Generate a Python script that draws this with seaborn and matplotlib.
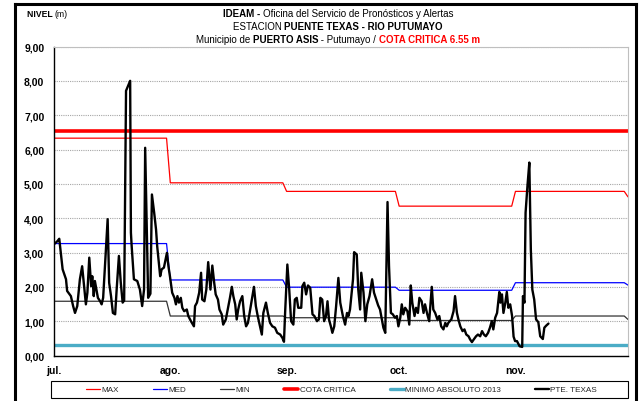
import numpy as np
import pandas as pd
import matplotlib
matplotlib.use("Agg")
import matplotlib.pyplot as plt
from matplotlib.text import Annotation
from matplotlib.patches import Rectangle
from matplotlib.lines import Line2D
import seaborn as sns

# ---- Datos -------------------------------------------------------------
meses = ["jul.", "ago.", "sep.", "oct.", "nov."]
inicio_mes = [0, 31, 62, 92, 123]
dias_mes = [31, 31, 30, 31, 30]
fin_eje = 153  # 1 de diciembre

# Estadisticos mensuales (m)
max_mes = [6.33, 5.03, 4.78, 4.35, 4.78]
med_mes = [3.26, 2.20, 1.99, 1.90, 2.12]
min_mes = [1.58, 1.15, 1.10, 1.02, 1.15]
cierre_max, cierre_med, cierre_min = 4.62, 2.05, 1.05

cota_critica = 6.55
minimo_absoluto_2013 = 0.32

# Nivel observado en la estacion Puente Texas (dias desde el 1 de julio)
dias_jul = [0.0, 0.9, 1.4, 2.3, 3.2, 3.5, 4.5, 5.1, 5.6, 6.2, 6.9, 7.5, 8.1, 8.5,
            8.9, 9.4, 9.9, 10.2, 10.6, 10.9, 11.7, 12.3, 12.7, 13.1, 14.3, 14.7,
            15.2, 15.7, 16.3, 16.7, 17.3, 17.8, 18.3, 18.7, 19.2, 20.3, 20.5, 20.7,
            21.3, 22.2, 22.9, 23.5, 24.0, 24.3, 25.1, 25.7, 26.1, 26.7, 27.2, 27.5,
            28.3, 28.7, 29.3, 30.1, 30.5, 30.9]
nivel_jul = [3.24, 3.33, 3.40, 2.51, 2.22, 1.88, 1.73, 1.44, 1.24, 1.44, 2.22, 2.60,
             1.92, 1.49, 1.83, 2.85, 2.02, 2.31, 1.73, 2.17, 1.68, 1.58, 1.49, 1.68,
             3.97, 2.12, 1.73, 1.24, 1.20, 1.92, 2.90, 2.12, 1.54, 1.60, 7.71, 8.00,
             3.58, 3.19, 2.22, 2.17, 1.92, 1.44, 1.92, 6.05, 1.68, 1.80, 4.69, 4.16,
             3.67, 3.19, 2.31, 2.51, 2.56, 2.99, 2.60, 2.31]

dias_ago = [31.5, 32.1, 32.5, 32.9, 33.3, 33.8, 34.2, 34.7, 35.4, 35.8, 36.5, 37.3,
            37.6, 38.1, 38.7, 39.2, 39.5, 40.1, 40.6, 41.1, 41.7, 42.2, 42.7, 43.1,
            43.7, 44.1, 44.7, 45.1, 45.8, 46.3, 46.9, 47.4, 47.8, 48.3, 48.7, 49.1,
            49.6, 50.2, 50.7, 51.2, 51.7, 52.3, 52.9, 53.3, 53.8, 54.3, 54.9, 55.4,
            55.8, 56.5, 57.0, 57.6, 58.2, 58.9, 59.5, 60.3, 60.9, 61.3]
nivel_ago = [1.83, 1.68, 1.49, 1.73, 1.54, 1.68, 1.39, 1.29, 1.34, 1.15, 1.00, 0.85,
             1.44, 1.54, 1.83, 2.41, 1.63, 1.58, 1.92, 2.72, 1.92, 2.62, 2.12, 1.78,
             1.63, 1.34, 1.20, 0.90, 1.05, 1.34, 1.68, 2.00, 1.73, 1.49, 1.05, 1.34,
             1.58, 1.73, 1.15, 0.85, 0.95, 1.34, 1.73, 2.00, 1.44, 1.15, 0.85, 0.61,
             1.24, 1.54, 1.24, 0.95, 0.85, 0.81, 0.66, 0.61, 0.51, 0.40]

dias_sep = [61.6, 62.2, 62.7, 63.2, 63.8, 64.2, 64.7, 65.1, 65.9, 66.2, 66.7, 67.2,
            67.7, 68.3, 68.9, 69.4, 70.1, 70.6, 71.0, 71.5, 72.0, 72.5, 72.9, 73.3,
            73.8, 74.2, 74.7, 75.2, 75.8, 76.3, 77.0, 77.6, 78.1, 78.5, 78.9, 79.7,
            80.0, 80.7, 81.1, 81.6, 81.9, 82.5, 83.0, 83.5, 84.1, 84.8, 85.3, 85.9,
            86.4, 86.9, 87.4, 87.8, 88.3, 88.9, 89.3, 89.8, 90.3, 90.9, 91.4, 91.8]
nivel_sep = [1.24, 2.65, 1.92, 1.00, 0.90, 1.63, 1.68, 1.39, 1.39, 2.02, 2.12, 1.78,
             2.04, 1.97, 1.20, 1.15, 1.00, 1.05, 1.68, 1.63, 1.00, 1.15, 1.58, 1.05,
             0.85, 0.66, 0.85, 1.44, 2.26, 1.54, 1.15, 0.90, 1.24, 1.15, 1.34, 2.22,
             3.01, 2.94, 1.92, 1.34, 2.41, 1.83, 1.00, 1.49, 1.73, 2.22, 1.83, 1.63,
             1.46, 1.34, 1.05, 0.81, 0.66, 4.47, 2.60, 1.24, 1.20, 1.10, 1.15, 0.85]

dias_oct = [92.3, 92.7, 93.1, 93.6, 94.2, 94.7, 95.1, 95.5, 96.1, 96.5, 97.0, 97.4,
            98.0, 98.5, 98.9, 99.5, 100.0, 100.7, 101.1, 101.6, 102.2, 102.7, 103.2,
            103.8, 104.3, 104.7, 105.1, 105.9, 106.5, 106.9, 107.4, 107.8, 108.3,
            108.9, 109.4, 109.9, 110.5, 110.9, 111.4, 111.9, 112.5, 113.0, 113.6,
            114.1, 114.6, 115.1, 115.7, 116.2, 116.7, 117.1, 117.6, 118.1, 118.7,
            119.0, 119.4, 119.8, 120.3, 120.7, 121.1, 121.6, 122.1, 122.5, 122.9]
nivel_oct = [1.10, 1.49, 1.20, 1.39, 1.29, 0.90, 2.04, 1.54, 1.15, 1.39, 1.24, 1.68,
             1.58, 1.24, 1.49, 1.20, 1.00, 2.00, 1.34, 1.24, 1.05, 1.15, 0.85,
             0.76, 0.95, 0.85, 0.95, 1.05, 1.29, 1.73, 1.24, 1.05, 0.85,
             0.71, 0.76, 0.61, 0.56, 0.47, 0.39, 0.47, 0.56, 0.61, 0.56,
             0.71, 0.61, 0.56, 0.66, 0.81, 1.00, 0.76, 1.10, 1.24, 1.85,
             1.54, 1.78, 1.24, 1.54, 1.85, 1.39, 1.49, 1.15, 0.55, 0.42]

dias_nov = [123.4, 124.1, 124.8, 125.0, 125.4, 125.7, 126.2, 126.7, 127.1, 127.5,
            128.0, 128.5, 129.1, 129.6, 130.3, 130.7, 131.2, 131.8]
nivel_nov = [0.42, 0.27, 0.25, 1.73, 1.54, 4.16, 4.94, 5.62, 3.09, 1.92,
             1.63, 1.05, 0.97, 0.56, 0.48, 0.81, 0.87, 0.93]

# ---- Tablas ------------------------------------------------------------
serie = pd.DataFrame({
    "dia": dias_jul + dias_ago + dias_sep + dias_oct + dias_nov,
    "nivel": nivel_jul + nivel_ago + nivel_sep + nivel_oct + nivel_nov,
})

dias_diarios = np.arange(fin_eje + 1)
estad = pd.DataFrame({
    "dia": dias_diarios,
    "max": np.append(np.repeat(max_mes, dias_mes), cierre_max),
    "med": np.append(np.repeat(med_mes, dias_mes), cierre_med),
    "min": np.append(np.repeat(min_mes, dias_mes), cierre_min),
})
referencias = pd.DataFrame({
    "dia": [0, fin_eje],
    "cota": [cota_critica] * 2,
    "minimo": [minimo_absoluto_2013] * 2,
})

# ---- Estilo ------------------------------------------------------------
sns.set_theme(style="white")
ANGOSTA = ["Liberation Sans Narrow", "Liberation Sans", "DejaVu Sans"]
NORMAL = ["Liberation Sans", "DejaVu Sans"]
plt.rcParams["font.family"] = NORMAL

fig = plt.figure(figsize=(6.4, 4.02), dpi=100, facecolor="white")
ax = fig.add_axes([54 / 640, 1 - 356.5 / 402, 574 / 640, 309 / 402])

sns.lineplot(data=estad, x="dia", y="max", ax=ax, color="#ff0000", linewidth=0.9,
             label="MAX", estimator=None, sort=False)
sns.lineplot(data=estad, x="dia", y="med", ax=ax, color="#0000ff", linewidth=0.9,
             label="MED", estimator=None, sort=False)
sns.lineplot(data=estad, x="dia", y="min", ax=ax, color="#333333", linewidth=0.9,
             label="MIN", estimator=None, sort=False)
sns.lineplot(data=referencias, x="dia", y="cota", ax=ax, color="#ff0000",
             linewidth=2.6, label="COTA CRITICA", estimator=None, sort=False)
sns.lineplot(data=referencias, x="dia", y="minimo", ax=ax, color="#4BACC6",
             linewidth=2.4, label="MINIMO ABSOLUTO 2013", estimator=None, sort=False)
sns.lineplot(data=serie, x="dia", y="nivel", ax=ax, color="black", linewidth=1.7,
             label="PTE. TEXAS", estimator=None, sort=False)

handles, labels = ax.get_legend_handles_labels()
ax.get_legend().remove()

# Ejes
ax.set_xlim(0, fin_eje)
ax.set_ylim(0, 9)
ax.set_xlabel("")
ax.set_ylabel("")
ax.set_xticks(inicio_mes)
ax.set_xticklabels(meses, fontweight="bold", fontsize=7.5)
yt = np.arange(0, 10)
ax.set_yticks(yt)
ax.set_yticklabels([f"{v:.2f}".replace(".", ",") for v in yt],
                   fontweight="bold", fontsize=7.5)
ax.tick_params(axis="both", which="major", direction="out", length=3,
               width=0.8, color="black", labelcolor="black")
ax.tick_params(axis="x", pad=4)
ax.tick_params(axis="y", pad=4)
ax.yaxis.grid(True, linestyle=(0, (1, 1)), color="#a6a6a6", linewidth=0.8)
ax.xaxis.grid(False)
ax.set_axisbelow(True)
for lado in ("left", "bottom"):
    ax.spines[lado].set_color("black")
    ax.spines[lado].set_linewidth(1.0)
for lado in ("top", "right"):
    ax.spines[lado].set_color("#bfbfbf")
    ax.spines[lado].set_linewidth(0.8)

# Leyenda inferior con marco
fig.add_artist(Rectangle((51 / 640, 3 / 402), 577 / 640, 17 / 402,
                         transform=fig.transFigure, fill=False,
                         edgecolor="black", linewidth=0.8))
fig.legend(handles, labels, loc="center", bbox_to_anchor=(0.5336, 0.0286),
           ncol=6, frameon=False, prop={"family": ANGOSTA, "size": 5.9},
           handlelength=1.7, handletextpad=0.15, columnspacing=4.2,
           borderpad=0.0)

# Marco exterior
for xs, ys in [((15 / 640, 15 / 640), (0, 397 / 402)),
               ((15 / 640, 636 / 640), (397 / 402, 397 / 402)),
               ((636 / 640, 636 / 640), (0, 397 / 402))]:
    fig.add_artist(Line2D(xs, ys, transform=fig.transFigure, color="black",
                          linewidth=2.2, solid_capstyle="projecting"))


def escribir(x, y, piezas, size, centrar=True):
    """Escribe un renglon con tramos de distinto estilo uno tras otro."""
    arts = []
    for texto, peso, color in piezas:
        if not arts:
            t = fig.text(x, y, texto, fontsize=size, fontweight=peso, color=color,
                         ha="left", va="bottom", family=ANGOSTA)
        else:
            t = Annotation(texto, xy=(1, 0), xycoords=arts[-1], ha="left",
                           va="bottom", fontsize=size, fontweight=peso,
                           color=color, family=ANGOSTA)
            fig.add_artist(t)
        arts.append(t)
    if centrar:
        fig.canvas.draw()
        r = fig.canvas.get_renderer()
        x0 = arts[0].get_window_extent(r).x0
        x1 = arts[-1].get_window_extent(r).x1
        centro = x * fig.bbox.width
        dx = (centro - (x0 + x1) / 2) / fig.bbox.width
        arts[0].set_x(x + dx)
    return arts


centro_x = 338 / 640
escribir(centro_x, 1 - 19 / 402,
         [("IDEAM - ", "bold", "black"),
          ("Oficina del Servicio de Pronósticos y Alertas", "normal", "black")], 7.0)
escribir(centro_x, 1 - 32 / 402,
         [("ESTACION ", "normal", "black"),
          ("PUENTE TEXAS - RIO PUTUMAYO", "bold", "black")], 7.0)
escribir(centro_x, 1 - 45 / 402,
         [("Municipio de ", "normal", "black"),
          ("PUERTO ASIS", "bold", "black"),
          (" - Putumayo / ", "normal", "black"),
          ("COTA CRITICA 6.55 m", "bold", "#ff0000")], 7.0)
escribir(27 / 640, 1 - 19 / 402,
         [("NIVEL ", "bold", "black"), ("(m)", "normal", "black")], 6.2,
         centrar=False)

fig.savefig("out.png", dpi=100, facecolor="white")
